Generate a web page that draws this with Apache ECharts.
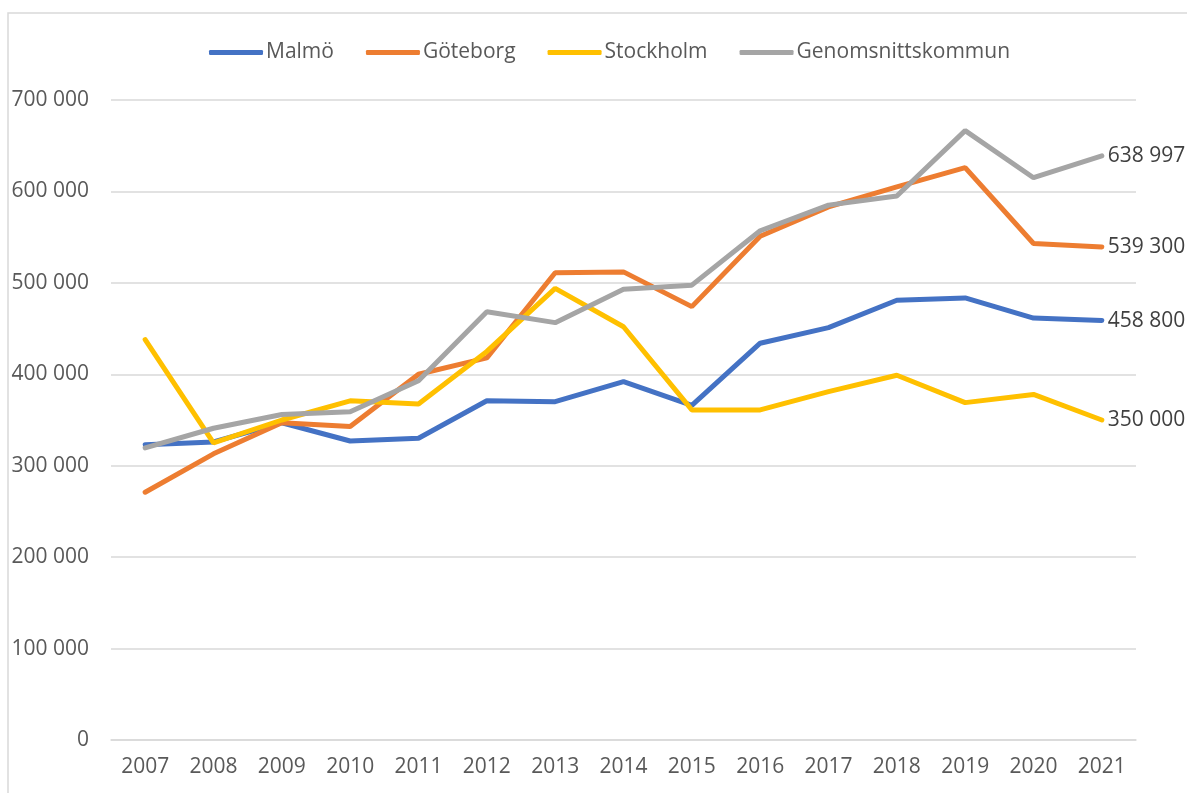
<!DOCTYPE html>
<html>
<head>
<meta charset="utf-8">
<script src="https://cdn.jsdelivr.net/npm/echarts@6/dist/echarts.min.js"></script>
<style>
  html, body { margin: 0; padding: 0; background: #fff; }
  #chart { width: 1187px; height: 793px; }
</style>
</head>
<body>
<div id="chart"></div>
<script>
// årtal
const years = ['2007', '2008', '2009', '2010', '2011', '2012', '2013', '2014',
    '2015', '2016', '2017', '2018', '2019', '2020', '2021'];

const malmo = [323000, 326000, 347000, 327000, 330000, 371000, 370000, 392000,
    366000, 434000, 451000, 481000, 483500, 461500, 458800];
const goteborg = [271000, 313000, 347000, 343000, 400000, 418000, 511000, 512000,
    474000, 551000, 583000, 605000, 626000, 543000, 539300];
const stockholm = [438000, 325000, 350000, 371000, 367500, 425000, 494000, 452000,
    361000, 361000, 381000, 399000, 369000, 378000, 350000];
const genomsnitt = [319500, 341000, 356000, 359000, 393000, 468500, 456500, 493000,
    497500, 557000, 585000, 595000, 666500, 615000, 638997];

const seriesNames = ['Malmö', 'Göteborg', 'Stockholm', 'Genomsnittskommun'];
const colors = ['#4472C4', '#ED7D31', '#FFC000', '#A5A5A5'];

const font = '"Open Sans", "Noto Sans", sans-serif';

// 100000 -> "100 000"
function fmt(v) {
    return String(v).replace(/\B(?=(\d{3})+(?!\d))/g, ' ');
}

const chart = echarts.init(document.getElementById('chart'));

function line(name, data, i) {
    return {
        name: name,
        type: 'line',
        data: data,
        symbol: 'none',
        lineStyle: { width: 5, color: colors[i], cap: 'round' },
        itemStyle: { color: colors[i] },
        endLabel: {
            show: true,
            distance: 6,
            fontFamily: font,
            fontSize: 21,
            color: '#404040',
            formatter: function (p) { return fmt(p.value); }
        },
        animation: false
    };
}

const option = {
    color: colors,
    graphic: [{
        type: 'rect',
        shape: { x: 8, y: 13, width: 1200, height: 800 },
        style: { fill: 'none', stroke: '#D9D9D9', lineWidth: 1.5 },
        silent: true
    }],
    legend: {
        top: 37,
        left: 204,
        itemWidth: 54,
        itemHeight: 5,
        itemGap: 32,
        icon: 'roundRect',
        textStyle: { fontFamily: font, fontSize: 21, color: '#595959', padding: [0, 0, 0, -2] },
        data: seriesNames
    },
    grid: { left: 111, right: 51, top: 100, bottom: 53, containLabel: false },
    xAxis: {
        type: 'category',
        data: years,
        boundaryGap: true,
        axisLine: { show: true, lineStyle: { color: '#D9D9D9', width: 1.5 } },
        axisTick: { show: false },
        axisLabel: { fontFamily: font, fontSize: 21, color: '#595959', margin: 17 }
    },
    yAxis: {
        type: 'value',
        min: 0,
        max: 700000,
        interval: 100000,
        axisLine: { show: false },
        axisTick: { show: false },
        splitLine: { lineStyle: { color: '#D9D9D9', width: 1.5 } },
        axisLabel: {
            fontFamily: font, fontSize: 21, color: '#595959', margin: 22,
            formatter: function (v) { return fmt(v); }
        }
    },
    series: [
        line(seriesNames[0], malmo, 0),
        line(seriesNames[1], goteborg, 1),
        line(seriesNames[2], stockholm, 2),
        line(seriesNames[3], genomsnitt, 3)
    ]
};

chart.setOption(option);
</script>
</body>
</html>
